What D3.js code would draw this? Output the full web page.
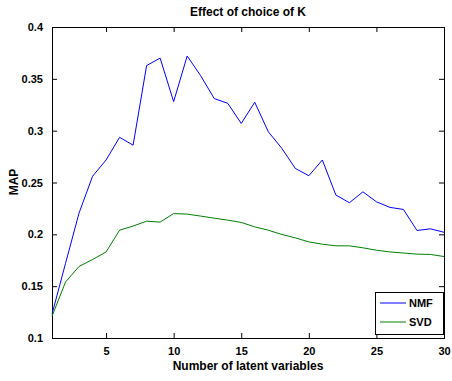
<!DOCTYPE html>
<html><head><meta charset="utf-8">
<script src="https://cdn.jsdelivr.net/npm/d3@7"></script>
<style>
body{margin:0;background:#fff;}
text{font-family:"Liberation Sans",Arial,sans-serif;font-weight:bold;fill:#000;}
</style></head>
<body>
<svg id="c" width="452" height="381"></svg>
<script>
const K = d3.range(1, 31);
const nmf = [0.123,0.172,0.2205,0.256,0.2717,0.2936,0.286,0.3628,0.370,0.328,
             0.372,0.353,0.331,0.3264,0.307,0.3274,0.299,0.283,0.2636,0.2565,
             0.2717,0.2379,0.2305,0.241,0.2314,0.226,0.224,0.2037,0.2053,0.202];
const svd = [0.121,0.154,0.169,0.1757,0.183,0.204,0.208,0.2127,0.2118,0.220,
             0.2195,0.2176,0.2156,0.2137,0.2115,0.2072,0.204,0.1999,0.1966,0.1927,
             0.1905,0.1889,0.1889,0.187,0.1847,0.183,0.182,0.1809,0.1806,0.1786];
const xTicks = [5,10,15,20,25,30];
const yTicks = [0.1,0.15,0.2,0.25,0.3,0.35,0.4];
const seriesNames = ["NMF","SVD"];
const colors = ["#0000ff","#008000"];

const L=52, R=444, T=27, B=338;
const svg = d3.select("#c");
const x = d3.scaleLinear().domain([1,30]).range([L,R]);
const y = d3.scaleLinear().domain([0.1,0.4]).range([B,T]);

svg.append("rect").attr("x",L).attr("y",T).attr("width",R-L).attr("height",B-T)
  .attr("fill","#fff").attr("stroke","none");

const tl = 5;
const fmt = d => d3.format("")(+d.toFixed(2));
const gxB = svg.append("g").attr("transform",`translate(0,${B})`)
  .call(d3.axisBottom(x).tickValues(xTicks).tickSizeInner(-tl).tickSizeOuter(0).tickPadding(9));
const gxT = svg.append("g").attr("transform",`translate(0,${T})`)
  .call(d3.axisTop(x).tickValues(xTicks).tickSizeInner(-tl).tickSizeOuter(0).tickFormat(""));
const gyL = svg.append("g").attr("transform",`translate(${L},0)`)
  .call(d3.axisLeft(y).tickValues(yTicks).tickSizeInner(-tl).tickSizeOuter(0).tickPadding(9).tickFormat(fmt));
const gyR = svg.append("g").attr("transform",`translate(${R},0)`)
  .call(d3.axisRight(y).tickValues(yTicks).tickSizeInner(-tl).tickSizeOuter(0).tickFormat(""));
[gxB,gxT,gyL,gyR].forEach(g=>{
  g.select(".domain").remove();
  g.selectAll("line").attr("stroke","#000");
  g.selectAll("text").attr("font-size","11px").attr("font-family",'"Liberation Sans",Arial,sans-serif').attr("font-weight","bold");
});
svg.append("rect").attr("x",L).attr("y",T).attr("width",R-L).attr("height",B-T)
  .attr("fill","none").attr("stroke","#000").attr("stroke-width",1).attr("shape-rendering","crispEdges");

const line = d3.line().x((d,i)=>x(K[i])).y(d=>y(d));
[nmf,svd].forEach((s,i)=>{
  svg.append("path").datum(s).attr("d",line).attr("fill","none")
    .attr("stroke",colors[i]).attr("stroke-width",1);
});

svg.append("text").attr("x",248).attr("y",16).attr("text-anchor","middle")
  .attr("font-size","12px").text("Effect of choice of K");
svg.append("text").attr("x",248).attr("y",370).attr("text-anchor","middle")
  .attr("font-size","12px").text("Number of latent variables");
svg.append("text").attr("transform","translate(18,182) rotate(-90)").attr("text-anchor","middle")
  .attr("font-size","12px").text("MAP");

// legend
const lg = svg.append("g");
lg.append("rect").attr("x",375.5).attr("y",292.5).attr("width",68).attr("height",42)
  .attr("fill","#fff").attr("stroke","#000");
seriesNames.forEach((n,i)=>{
  const yy = 303 + i*19;
  lg.append("line").attr("x1",380).attr("x2",406).attr("y1",yy).attr("y2",yy)
    .attr("stroke",colors[i]).attr("stroke-width",1);
  lg.append("text").attr("x",409).attr("y",yy+4).attr("font-size","11px").attr("font-weight","normal").text(n);
});
</script>
</body></html>
